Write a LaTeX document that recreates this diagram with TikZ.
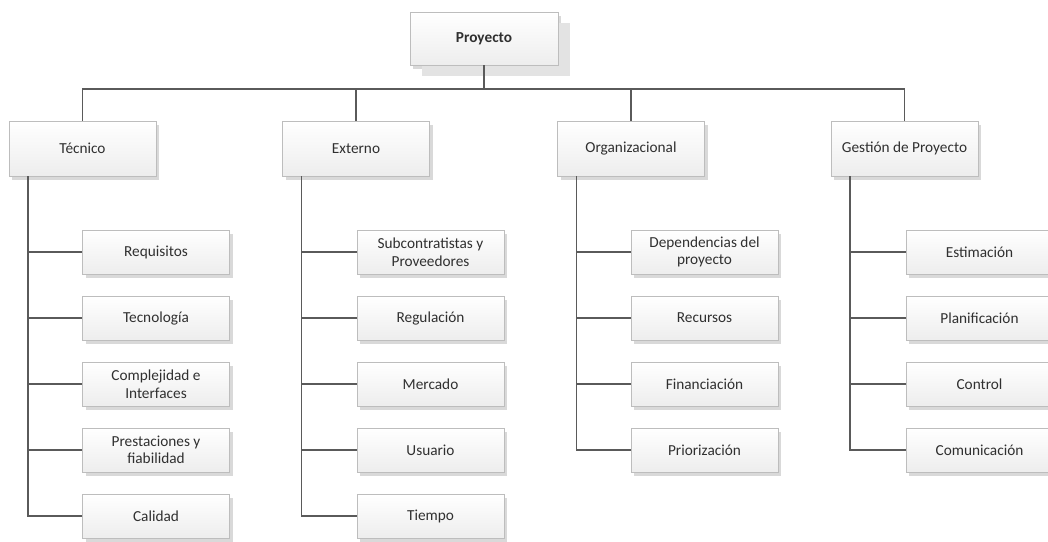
\documentclass[tikz,border=0pt]{standalone}
\usepackage{fontspec}
\setmainfont{Carlito}
\usetikzlibrary{shadows}
\definecolor{linegray}{HTML}{5A5A5A}
\definecolor{boxline}{HTML}{BDBDBD}
\definecolor{txt}{HTML}{303030}
\tikzset{
  box/.style={draw=boxline, line width=0.6pt, top color=white, bottom color=gray!14,
    text=txt, align=center, inner sep=0pt,
    font=\fontsize{15.3}{17.5}\selectfont,
    general shadow={fill=gray!30, shadow xshift=3pt, shadow yshift=-4pt}},
  rootbox/.style={box, minimum width=148pt, minimum height=53pt, font=\fontsize{15.3}{17.5}\selectfont\bfseries,
    general shadow={fill=gray!22, shadow xshift=12pt, shadow yshift=-11pt}},
  areabox/.style={box, minimum width=147pt, minimum height=55pt},
  itembox/.style={box, minimum width=147pt, minimum height=44pt},
  link/.style={draw=linegray, line width=1.1pt}
}
\begin{document}
\begin{tikzpicture}[x=1pt,y=-1pt]
\useasboundingbox (0,0) rectangle (1048,541);
\clip (0,0) rectangle (1048,541);

% root
\node[rootbox] (P) at (484,38.5) {Proyecto};
\coordinate (bus) at (484,89);

% areas
\node[areabox] (T) at (82.5,148.5) {Técnico};
\node[areabox] (E) at (356,148.5) {Externo};
\node[areabox] (O) at (631,148.5) {Organizacional};
\node[areabox] (G) at (904.5,148.5) {Gestión de Proyecto};

% Técnico
\node[itembox] (t1) at (156,252) {Requisitos};
\node[itembox] (t2) at (156,318) {Tecnología};
\node[itembox] (t3) at (156,384) {Complejidad e\\Interfaces};
\node[itembox] (t4) at (156,450) {Prestaciones y\\fiabilidad};
\node[itembox] (t5) at (156,516) {Calidad};

% Externo
\node[itembox] (e1) at (430.5,252) {Subcontratistas y\\Proveedores};
\node[itembox] (e2) at (430.5,318) {Regulación};
\node[itembox] (e3) at (430.5,384) {Mercado};
\node[itembox] (e4) at (430.5,450) {Usuario};
\node[itembox] (e5) at (430.5,516) {Tiempo};

% Organizacional
\node[itembox] (o1) at (704.5,252) {Dependencias del\\proyecto};
\node[itembox] (o2) at (704.5,318) {Recursos};
\node[itembox] (o3) at (704.5,384) {Financiación};
\node[itembox] (o4) at (704.5,450) {Priorización};

% Gestión de Proyecto
\node[itembox] (g1) at (979.5,252) {Estimación};
\node[itembox] (g2) at (979.5,318) {Planificación};
\node[itembox] (g3) at (979.5,384) {Control};
\node[itembox] (g4) at (979.5,450) {Comunicación};

% root to areas
\draw[link] (P.south) -- (bus);
\foreach \a in {T,E,O,G}
  \draw[link] (\a.north) |- (bus);

% areas to items
\foreach \a/\items in {T/{t1,t2,t3,t4,t5}, E/{e1,e2,e3,e4,e5}, O/{o1,o2,o3,o4}, G/{g1,g2,g3,g4}}
  \foreach \i in \items
    \draw[link] ([xshift=-54.5pt]\a.south) |- (\i.west);
\end{tikzpicture}
\end{document}
